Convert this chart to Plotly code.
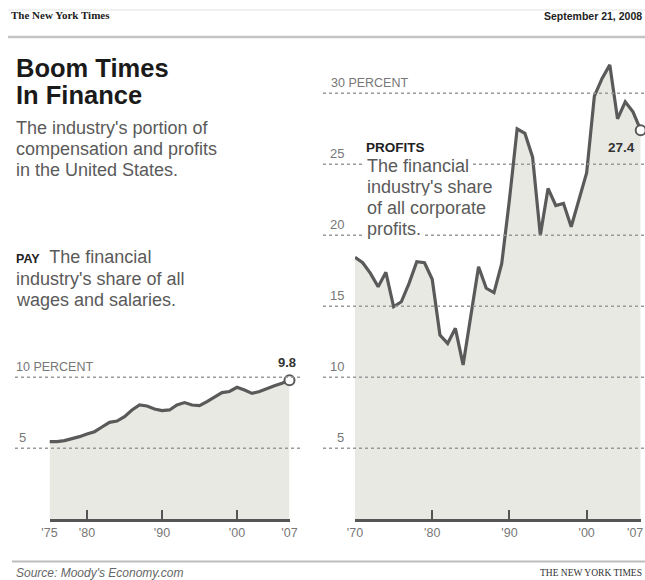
import plotly.graph_objects as go

# ---------------- data ----------------
pay_years = list(range(1975, 2008))
pay_values = [5.47, 5.47, 5.54, 5.66, 5.82, 6.0, 6.17, 6.5, 6.83, 6.92, 7.23,
              7.70, 8.05, 7.98, 7.77, 7.65, 7.70, 8.05, 8.22, 8.05, 8.0, 8.29,
              8.59, 8.92, 9.0, 9.30, 9.11, 8.87, 9.0, 9.23, 9.41, 9.58, 9.8]

profit_years = list(range(1970, 2008))
profit_values = [18.45, 18.07, 17.32, 16.38, 17.39, 14.97, 15.32, 16.62, 18.14,
                 18.07, 16.9, 12.98, 12.39, 13.45, 10.87, 14.27, 17.79, 16.27,
                 15.96, 18.0, 22.5, 27.5, 27.18, 25.5, 20.0, 23.3, 22.1, 22.25,
                 20.6, 22.5, 24.4, 29.8, 31.05, 32.0, 28.2, 29.4, 28.7, 27.4]

pay_ticks = [1975, 1980, 1990, 2000, 2007]
pay_ticktext = ["'75", "'80", "'90", "'00", "'07"]
profit_ticks = [1970, 1980, 1990, 2000, 2007]
profit_ticktext = ["'70", "'80", "'90", "'00", "'07"]

pay_grid = [5, 10]
pay_grid_labels = ["5", "10 PERCENT"]
profit_grid = [5, 10, 15, 20, 25, 30]
profit_grid_labels = ["5", "10", "15", "20", "25", "30 PERCENT"]

# ---------------- helpers ----------------
W, H = 645, 580
def px(x):
    return x / W
def py(y):
    return 1 - y / H

FILL = "#e9e9e4"
LINE = "#5a5a5a"
FONT = "Liberation Sans, Arial, sans-serif"
TICKFONT = dict(size=12.5, color="#777", family=FONT)

fig = go.Figure()

fig.add_trace(go.Scatter(x=pay_years, y=pay_values, mode="lines", fill="tozeroy",
                         fillcolor=FILL, line=dict(color=LINE, width=3.2),
                         xaxis="x", yaxis="y", cliponaxis=False, hoverinfo="skip"))
fig.add_trace(go.Scatter(x=pay_years[-1:], y=pay_values[-1:], mode="markers",
                         marker=dict(size=10, color="white", line=dict(color=LINE, width=2)),
                         xaxis="x", yaxis="y", cliponaxis=False, hoverinfo="skip"))
fig.add_trace(go.Scatter(x=profit_years, y=profit_values, mode="lines", fill="tozeroy",
                         fillcolor=FILL, line=dict(color=LINE, width=3.2),
                         xaxis="x2", yaxis="y", cliponaxis=False, hoverinfo="skip"))
fig.add_trace(go.Scatter(x=profit_years[-1:], y=profit_values[-1:], mode="markers",
                         marker=dict(size=10, color="white", line=dict(color=LINE, width=2)),
                         xaxis="x2", yaxis="y", cliponaxis=False, hoverinfo="skip"))

shapes = []
# dotted gridlines
for v in pay_grid:
    shapes.append(dict(type="line", xref="paper", yref="y", x0=px(15), x1=px(300), y0=v, y1=v,
                       line=dict(color="#9a9a9a", width=1.6, dash="dot"), layer="above"))
for v in profit_grid:
    shapes.append(dict(type="line", xref="paper", yref="y", x0=px(323), x1=px(645), y0=v, y1=v,
                       line=dict(color="#9a9a9a", width=1.6, dash="dot"), layer="above"))
# header / footer rules
shapes.append(dict(type="line", xref="paper", yref="paper", x0=px(8), x1=1, y0=py(37), y1=py(37),
                   line=dict(color="#c4c4c4", width=2.5)))
shapes.append(dict(type="line", xref="paper", yref="paper", x0=px(8), x1=1, y0=py(10), y1=py(10),
                   line=dict(color="#ececec", width=1.5)))
shapes.append(dict(type="line", xref="paper", yref="paper", x0=px(12), x1=1, y0=py(561.5), y1=py(561.5),
                   line=dict(color="#bdbdbd", width=2)))

ann = []
def text(x, yc, s, size, color="#555", bold=False, family=FONT, anchor="left", bg=None, italic=False):
    if bold:
        s = "<b>" + s + "</b>"
    if italic:
        s = "<i>" + s + "</i>"
    d = dict(xref="paper", yref="paper", x=px(x), y=py(yc), text=s, showarrow=False,
             xanchor=anchor, yanchor="middle", font=dict(size=size, color=color, family=family))
    if bg:
        d.update(bgcolor=bg, borderpad=2)
    ann.append(d)

def line_at_baseline(x, base, s, size, **kw):
    text(x, base - 0.33 * size, s, size, **kw)

# header
text(9, 15, "The New York Times", 11, color="#222", bold=True, family="Liberation Serif, serif")
text(644, 16, "September 21, 2008", 10.5, color="#222", bold=True, anchor="right")
# title
line_at_baseline(14, 76.7, "Boom Times", 25.5, color="#1a1a1a", bold=True)
line_at_baseline(14, 103.3, "In Finance", 25.5, color="#1a1a1a", bold=True)
for b, s in zip([133.5, 154.5, 175.5],
                ["The industry's portion of", "compensation and profits", "in the United States."]):
    line_at_baseline(14, b, s, 18, color="#5a5a5a")
# PAY note
line_at_baseline(14, 263, "<span style='font-size:12.5px;color:#222'><b>PAY</b></span>  The financial", 18, color="#5a5a5a")
line_at_baseline(14, 284.5, "industry's share of all", 18, color="#5a5a5a")
line_at_baseline(14, 306, "wages and salaries.", 18, color="#5a5a5a")
# PROFITS note
line_at_baseline(364, 151.5, "PROFITS", 13.5, color="#222", bold=True)
for b, s in zip([171.5, 192.5, 214, 235],
                ["The financial", "industry's share", "of all corporate", "profits."]):
    line_at_baseline(364, b, s, 18, color="#5a5a5a", bg="white")
# footer
text(14, 573, "Source: Moody's Economy.com", 12, color="#666", italic=True)
text(644, 573, "THE NEW YORK TIMES", 9.5, color="#333", family="Liberation Serif, serif", anchor="right")

# gridline value labels
for v, lab in zip(pay_grid, pay_grid_labels):
    if "PERCENT" in lab:
        ann.append(dict(xref="paper", yref="y", x=px(14), y=v, text=lab, showarrow=False,
                        xanchor="left", yanchor="bottom", yshift=1,
                        font=dict(size=12.5, color="#777", family=FONT)))
    else:
        ann.append(dict(xref="paper", yref="y", x=px(28), y=v, text=lab, showarrow=False,
                        xanchor="right", yanchor="bottom", yshift=1,
                        font=dict(size=13, color="#777", family=FONT)))
for v, lab in zip(profit_grid, profit_grid_labels):
    if "PERCENT" in lab:
        ann.append(dict(xref="paper", yref="y", x=px(329), y=v, text=lab, showarrow=False,
                        xanchor="left", yanchor="bottom", yshift=1,
                        font=dict(size=12.5, color="#777", family=FONT)))
    else:
        ann.append(dict(xref="paper", yref="y", x=px(346), y=v, text=lab, showarrow=False,
                        xanchor="right", yanchor="bottom", yshift=1,
                        font=dict(size=13, color="#777", family=FONT)))

# end-value labels
ann.append(dict(xref="x", yref="y", x=pay_years[-1], y=pay_values[-1],
                text="<b>%.1f</b>" % pay_values[-1], showarrow=False,
                xanchor="center", yanchor="middle", xshift=-3, yshift=18,
                font=dict(size=13, color="#333", family=FONT)))
ann.append(dict(xref="x2", yref="y", x=profit_years[-1], y=profit_values[-1],
                text="<b>%.1f</b>" % profit_values[-1], showarrow=False,
                xanchor="right", yanchor="middle", xshift=-4, yshift=-17,
                font=dict(size=13.5, color="#333", family=FONT)))

# last profits tick label, right-aligned so it stays inside the page
profit_ticktext_axis = profit_ticktext[:-1] + [""]
ann.append(dict(xref="x2", yref="y", x=profit_ticks[-1], y=0, text=profit_ticktext[-1],
                showarrow=False, xanchor="right", yanchor="middle", xshift=4, yshift=-14,
                font=TICKFONT))

axis_common = dict(showgrid=False, zeroline=False, showline=True, linecolor="#555", linewidth=2.5,
                   ticks="inside", ticklen=10, tickwidth=1.5, tickcolor="#555", automargin=False,
                   tickfont=TICKFONT, anchor="y", fixedrange=True)

fig.update_layout(
    width=W, height=H, margin=dict(l=0, r=0, t=0, b=0, autoexpand=False),
    paper_bgcolor="white", plot_bgcolor="rgba(0,0,0,0)",
    showlegend=False,
    xaxis=dict(domain=[px(49.5), px(289.5)], range=[1975, 2007],
               tickvals=pay_ticks, ticktext=pay_ticktext, **axis_common),
    xaxis2=dict(domain=[px(355), px(640.7)], range=[1970, 2007],
                tickvals=profit_ticks, ticktext=profit_ticktext_axis, **axis_common),
    yaxis=dict(domain=[py(519.3), py(50)], range=[0, (519.3 - 50) / 14.2],
               visible=False, fixedrange=True, automargin=False),
    shapes=shapes, annotations=ann,
)

fig.write_html(
    "out.html",
    config={"displayModeBar": False, "responsive": False},
    post_script="document.body.style.margin='0';document.body.style.overflow='hidden';"
                "document.documentElement.style.overflow='hidden';",
)
